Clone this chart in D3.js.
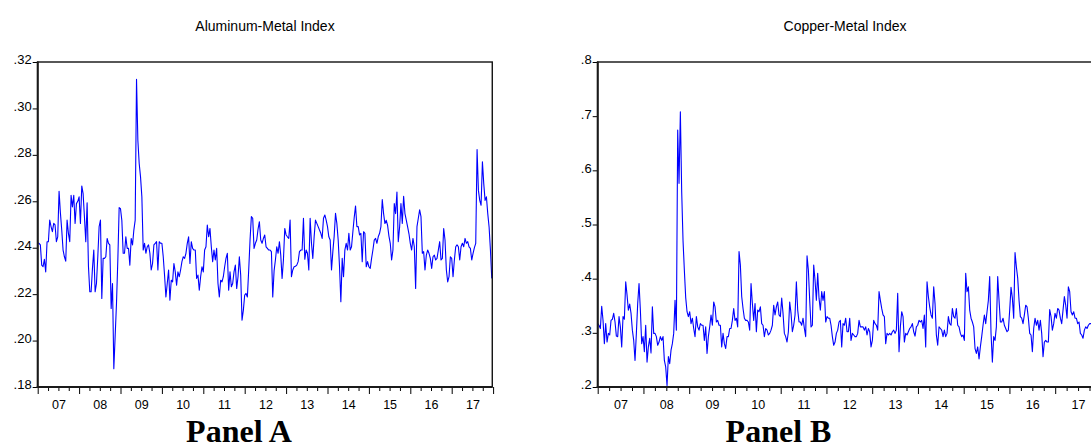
<!DOCTYPE html>
<html><head><meta charset="utf-8">
<script src="https://cdn.jsdelivr.net/npm/d3@7/dist/d3.min.js"></script>
<style>
html,body{margin:0;padding:0;background:#fff;overflow:hidden}
</style></head><body>
<svg id="chart" width="1091" height="445"></svg>
<script>
// ---------------- data ----------------
const yearLabels = ["07","08","09","10","11","12","13","14","15","16","17"];
const startYear = 2007;
const titles = ["Aluminum-Metal Index", "Copper-Metal Index"];
const panelLabels = ["Panel A", "Panel B"];
const alumTicks = [0.18, 0.20, 0.22, 0.24, 0.26, 0.28, 0.30, 0.32];
const copperTicks = [0.2, 0.3, 0.4, 0.5, 0.6, 0.7, 0.8];
const alumStepsPerYear = 31;
const copperStepsPerYear = 34.3125;

const alumValues = [
.2420,.2419,.2412,.2325,.2318,.2350,.2296,.2426,.2426,.2519,
.2491,.2469,.2505,.2498,.2426,.2447,.2643,.2550,.2476,.2390,
.2361,.2342,.2519,.2462,.2426,.2626,.2576,.2626,.2504,.2590,
.2600,.2619,.2504,.2666,.2633,.2532,.2426,.2594,.2320,.2210,
.2210,.2311,.2390,.2210,.2246,.2361,.2491,.2519,.2181,.2354,
.2354,.2361,.2440,.2419,.2412,.2138,.2246,.1879,.2020,.2160,
.2347,.2573,.2568,.2518,.2376,.2376,.2447,.2397,.2397,.2325,
.2440,.2412,.2476,.2519,.3125,.2863,.2763,.2705,.2619,.2390,
.2419,.2376,.2404,.2412,.2376,.2304,.2332,.2412,.2419,.2426,
.2304,.2426,.2419,.2419,.2361,.2280,.2188,.2246,.2304,.2174,
.2260,.2253,.2332,.2296,.2239,.2296,.2275,.2304,.2340,.2361,
.2354,.2376,.2419,.2447,.2332,.2426,.2397,.2390,.2390,.2268,
.2282,.2217,.2275,.2318,.2296,.2390,.2404,.2498,.2447,.2483,
.2404,.2340,.2390,.2347,.2397,.2246,.2188,.2260,.2253,.2275,
.2318,.2354,.2376,.2217,.2296,.2232,.2246,.2296,.2325,.2224,
.2275,.2361,.2282,.2088,.2131,.2196,.2203,.2188,.2304,.2433,
.2534,.2527,.2397,.2419,.2433,.2480,.2512,.2433,.2419,.2440,
.2455,.2404,.2397,.2390,.2390,.2383,.2188,.2300,.2347,.2404,
.2376,.2426,.2368,.2268,.2347,.2483,.2455,.2447,.2440,.2519,
.2275,.2304,.2318,.2320,.2325,.2340,.2383,.2390,.2390,.2527,
.2350,.2390,.2376,.2304,.2527,.2419,.2354,.2447,.2519,.2505,
.2491,.2476,.2462,.2440,.2527,.2541,.2519,.2491,.2447,.2433,
.2304,.2383,.2450,.2548,.2505,.2433,.2318,.2167,.2354,.2275,
.2390,.2419,.2390,.2462,.2390,.2404,.2469,.2530,.2580,.2491,
.2491,.2455,.2462,.2340,.2469,.2462,.2318,.2340,.2318,.2311,
.2354,.2390,.2433,.2440,.2419,.2447,.2462,.2491,.2607,.2547,
.2504,.2518,.2496,.2450,.2419,.2347,.2390,.2590,.2547,.2640,
.2426,.2489,.2590,.2504,.2622,.2547,.2519,.2490,.2460,.2419,
.2390,.2440,.2404,.2224,.2491,.2527,.2563,.2534,.2376,.2383,
.2304,.2368,.2390,.2376,.2354,.2311,.2361,.2368,.2347,.2354,
.2390,.2426,.2347,.2354,.2483,.2433,.2304,.2253,.2275,.2361,
.2354,.2275,.2347,.2404,.2412,.2404,.2347,.2404,.2419,.2404,
.2440,.2419,.2426,.2404,.2397,.2347,.2376,.2400,.2419,.2823,
.2647,.2604,.2583,.2770,.2676,.2604,.2619,.2547,.2489,.2390,
.2268
];

const copperValues = [
.317,.314,.308,.349,.323,.280,.317,.283,.299,.296,
.323,.325,.336,.320,.294,.293,.330,.311,.274,.330,
.325,.394,.370,.342,.353,.336,.305,.286,.249,.299,
.354,.391,.342,.280,.293,.265,.314,.246,.274,.290,
.263,.348,.299,.299,.293,.277,.283,.293,.286,.293,
.249,.237,.203,.256,.243,.268,.280,.299,.360,.305,
.6745,.576,.708,.560,.470,.415,.365,.339,.330,.339,
.317,.327,.308,.293,.330,.311,.305,.317,.314,.314,
.286,.311,.262,.293,.311,.333,.314,.357,.348,.320,
.323,.314,.314,.274,.299,.280,.271,.293,.293,.308,
.308,.323,.345,.323,.327,.311,.450,.425,.367,.345,
.327,.323,.323,.320,.305,.391,.354,.323,.354,.302,
.342,.339,.348,.317,.314,.293,.308,.305,.296,.299,
.305,.314,.351,.333,.348,.357,.333,.330,.364,.336,
.299,.293,.283,.302,.357,.336,.302,.314,.333,.394,
.342,.320,.320,.314,.327,.308,.293,.442,.416,.360,
.311,.314,.425,.397,.360,.410,.364,.342,.376,.360,
.376,.320,.330,.327,.327,.314,.293,.277,.283,.299,
.305,.320,.323,.274,.317,.314,.327,.302,.302,.327,
.286,.299,.296,.293,.293,.299,.323,.311,.311,.311,
.305,.311,.296,.308,.302,.274,.286,.323,.317,.314,
.305,.376,.360,.345,.333,.330,.280,.299,.296,.299,
.296,.302,.305,.299,.305,.373,.265,.311,.339,.330,
.283,.299,.296,.302,.308,.311,.317,.302,.294,.311,
.314,.323,.320,.323,.308,.333,.274,.394,.367,.348,
.333,.327,.385,.354,.296,.277,.311,.308,.305,.293,
.305,.293,.299,.330,.317,.314,.345,.330,.327,.345,
.314,.311,.299,.293,.296,.286,.410,.376,.385,.342,
.327,.320,.311,.271,.262,.274,.252,.274,.293,.314,
.333,.317,.339,.360,.404,.299,.246,.293,.286,.311,
.404,.360,.320,.320,.327,.314,.308,.302,.305,.342,
.384,.364,.327,.448,.422,.401,.360,.330,.327,.317,
.333,.351,.348,.327,.299,.296,.265,.308,.327,.314,
.323,.305,.323,.299,.256,.283,.286,.283,.283,.343,
.330,.305,.317,.336,.327,.345,.342,.327,.317,.342,
.367,.351,.327,.385,.376,.339,.333,.339,.327,.327,
.317,.320,.299,.296,.290,.305,.311,.308,.314,.317,
.317
];

// ---------------- drawing ----------------
const svg = d3.select("#chart");
const TOP = 62, BOTTOM = 387;
const SANS = "'Liberation Sans', Arial, sans-serif";
const SERIF = "'Liberation Serif', 'Times New Roman', serif";

function drawPanel(cfg) {
  const x = d3.scaleLinear().domain([startYear, startYear + 11]).range([cfg.left, cfg.left + 11 * cfg.yearWidth]);
  const xEnd = startYear + 10.98;
  const y = d3.scaleLinear().domain(d3.extent(cfg.ticks)).range([BOTTOM, TOP]);
  const g = svg.append("g");
  const right = x(xEnd);

  // title
  g.append("text").attr("x", cfg.titleX).attr("y", 31)
    .attr("text-anchor", "middle").style("font-family", SANS).style("font-size", "14px").attr("fill", "#000")
    .text(cfg.title);

  // line
  const dates = cfg.values.map((v, i) => startYear + i / cfg.steps);
  const line = d3.line().x((d, i) => x(dates[i])).y(d => y(d));
  g.append("path").datum(cfg.values).attr("d", line)
    .attr("fill", "none").attr("stroke", "#0000ff").attr("stroke-width", 1.1)
    .attr("stroke-linejoin", "round");

  // frame
  g.append("rect").attr("x", cfg.left).attr("y", TOP).attr("width", right - cfg.left).attr("height", BOTTOM - TOP)
    .attr("fill", "none").attr("stroke", "#111").attr("stroke-width", 1.4);

  // y axis
  const ya = g.append("g").attr("transform", `translate(${cfg.left},0)`)
    .call(d3.axisLeft(y).tickValues(cfg.ticks).tickSize(5).tickPadding(1).tickFormat(cfg.fmt));
  ya.select(".domain").remove();
  ya.selectAll("text").style("font-size", "13px").style("font-family", SANS).attr("dy", "0.15em").attr("fill", "#000");
  ya.selectAll("line").attr("stroke", "#000");

  // x axis: major (years), minor (quarters), labels
  const years = d3.range(startYear, startYear + 12).filter(v => v <= xEnd + 0.05);
  const quarters = d3.range(0, 44).map(q => startYear + q / 4).filter(v => (v % 1) !== 0);
  const xa1 = g.append("g").attr("transform", `translate(0,${BOTTOM})`)
    .call(d3.axisBottom(x).tickValues(years).tickSize(7).tickFormat(""));
  xa1.select(".domain").remove();
  const xa2 = g.append("g").attr("transform", `translate(0,${BOTTOM})`)
    .call(d3.axisBottom(x).tickValues(quarters).tickSize(4).tickFormat(""));
  xa2.select(".domain").remove();
  const mids = yearLabels.map((l, i) => startYear + i + 0.5);
  const xa3 = g.append("g").attr("transform", `translate(0,${BOTTOM})`)
    .call(d3.axisBottom(x).tickValues(mids).tickSize(0).tickPadding(13).tickFormat((d, i) => yearLabels[i]));
  xa3.select(".domain").remove();
  xa3.selectAll("text").style("font-size", "12.5px").style("font-family", SANS).attr("fill", "#000");
  g.selectAll(".tick line").attr("stroke", "#000");

  // heavier left & bottom axis lines
  g.append("line").attr("x1", cfg.left).attr("x2", cfg.left).attr("y1", TOP - 0.5).attr("y2", BOTTOM + 1)
    .attr("stroke", "#1a1a1a").attr("stroke-width", 2);
  g.append("line").attr("x1", cfg.left - 1).attr("x2", right).attr("y1", BOTTOM).attr("y2", BOTTOM)
    .attr("stroke", "#1a1a1a").attr("stroke-width", 2);

  // panel label
  svg.append("text").attr("x", cfg.labelX).attr("y", 442).attr("text-anchor", "middle")
    .style("font-family", SERIF).style("font-weight", "bold")
    .style("font-size", "32px").attr("fill", "#000").text(cfg.label);
}

const fmtDrop = f => d => d3.format(f)(d).replace(/^0\./, ".");

drawPanel({left: 37.7, yearWidth: 41.4, ticks: alumTicks, values: alumValues, steps: alumStepsPerYear,
  fmt: fmtDrop(".2f"), title: titles[0], titleX: 265, label: panelLabels[0], labelX: 239});
drawPanel({left: 597.7, yearWidth: 45.75, ticks: copperTicks, values: copperValues, steps: copperStepsPerYear,
  fmt: fmtDrop(".1f"), title: titles[1], titleX: 845, label: panelLabels[1], labelX: 778.5});
</script>
</body></html>
